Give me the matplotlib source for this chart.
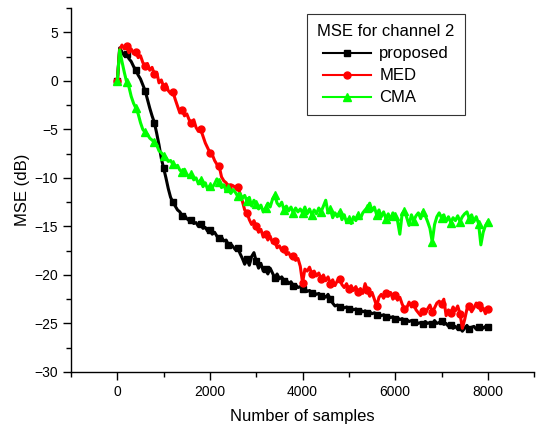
import numpy as np
import matplotlib
matplotlib.use("Agg")
import matplotlib.pyplot as plt
from matplotlib.ticker import MultipleLocator

plt.rcParams['font.family'] = ['Liberation Sans', 'DejaVu Sans']

# sample index, one value every 50 samples
samples = np.arange(0, 8001, 50)

mse_proposed = [
    0.0, 3.4, 3.0, 2.6, 2.8, 2.3, 2.0, 1.5, 1.1, 0.6,
    0.2, -0.4, -1.0, -1.9, -2.8, -3.6, -4.3, -5.4, -6.6, -8.0,
    -9.0, -10.0, -11.1, -12.0, -12.5, -12.9, -13.3, -13.5, -13.9, -13.8,
    -14.2, -14.4, -14.3, -14.7, -14.6, -15.0, -14.8, -15.2, -15.1, -15.5,
    -15.4, -15.8, -15.6, -16.0, -16.2, -16.1, -16.5, -16.4, -16.9, -16.8,
    -17.1, -17.4, -17.2, -17.8, -18.3, -18.9, -18.4, -19.0, -18.1, -17.7,
    -18.6, -19.3, -18.8, -19.6, -19.4, -19.9, -19.3, -19.8, -20.3, -19.9,
    -20.4, -20.2, -20.6, -20.5, -20.9, -20.7, -21.1, -21.0, -21.3, -21.2,
    -21.5, -21.4, -21.7, -21.6, -21.9, -21.8, -22.0, -21.9, -22.2, -22.1,
    -22.3, -22.0, -22.5, -22.9, -23.2, -23.1, -23.3, -23.2, -23.4, -23.3,
    -23.5, -23.4, -23.6, -23.5, -23.7, -23.6, -23.8, -23.7, -23.9, -23.8,
    -24.0, -23.9, -24.1, -24.0, -24.2, -24.1, -24.3, -24.2, -24.4, -24.3,
    -24.5, -24.4, -24.6, -24.5, -24.7, -24.6, -24.8, -24.7, -24.9, -24.8,
    -25.0, -24.9, -25.1, -24.8, -25.0, -24.9, -25.1, -24.7, -25.0, -24.9,
    -24.7, -25.1, -25.0, -25.3, -25.2, -25.5, -25.3, -25.6, -25.4, -25.8,
    -25.5, -25.2, -25.6, -25.4, -25.3, -25.6, -25.4, -25.2, -25.5, -25.3,
    -25.4,
]

mse_med = [
    0.0, 3.2, 3.7, 3.3, 3.6, 2.9, 3.3, 2.8, 3.0, 2.4,
    2.6, 1.9, 1.5, 1.8, 1.1, 1.4, 0.7, 0.9, -0.2, 0.1,
    -0.6, -0.3, -1.0, -1.3, -1.1, -1.9, -2.6, -3.3, -3.0, -3.6,
    -3.4, -4.0, -4.3, -4.0, -4.8, -5.2, -5.0, -5.7, -6.4, -6.9,
    -7.4, -7.6, -8.2, -8.6, -8.8, -9.9, -10.3, -10.5, -10.9, -10.7,
    -10.8, -11.0, -10.9, -11.6, -12.4, -13.3, -13.6, -14.3, -14.8, -14.4,
    -15.0, -15.6, -15.3, -16.1, -15.8, -16.4, -16.0, -16.7, -16.5, -17.2,
    -17.0, -17.5, -17.3, -17.9, -17.7, -18.2, -18.0, -18.5, -18.3, -19.1,
    -20.8, -19.4, -19.6, -19.2, -19.9, -19.6, -20.1, -19.8, -20.4, -20.0,
    -20.6, -20.2, -20.9, -20.5, -21.1, -20.6, -20.4, -21.0, -21.3, -20.9,
    -21.5, -21.1, -21.6, -21.2, -21.8, -21.4, -21.9, -20.9, -21.6, -22.2,
    -21.8, -22.5, -23.2, -22.3, -22.0, -22.4, -21.9, -22.2, -21.8, -22.5,
    -22.1, -22.6, -22.3, -23.0, -23.5, -23.4, -22.8, -23.3, -23.0, -23.6,
    -23.9, -24.2, -23.7, -24.0, -23.5, -23.1, -23.8, -23.4, -22.9, -22.7,
    -23.0, -22.5, -24.2, -23.6, -23.9, -23.3, -23.7, -23.2, -24.0, -25.5,
    -24.6, -23.5, -23.2, -23.8, -23.4, -22.9, -23.1, -23.7, -23.4, -24.0,
    -23.5,
]

mse_cma = [
    0.0, 3.2, 2.0, 0.9, -0.1, -0.6, -1.6, -2.3, -2.8, -3.4,
    -4.3, -5.0, -5.3, -5.5, -5.9, -6.1, -6.3, -6.6, -7.2, -7.4,
    -7.7, -7.9, -8.3, -8.2, -8.6, -8.9, -8.7, -9.2, -9.4, -9.1,
    -9.6, -9.9, -9.6, -10.2, -10.0, -10.6, -10.2, -10.9, -10.5, -11.2,
    -10.8, -11.0, -10.6, -10.1, -10.4, -11.0, -10.7, -11.4, -11.0, -11.6,
    -11.2, -11.5, -11.9, -11.6, -12.1, -11.8, -12.4, -12.0, -12.9, -12.3,
    -12.7, -13.2, -12.8, -13.5, -13.1, -12.6, -13.0, -12.2, -11.8, -12.6,
    -12.9, -12.5, -13.3, -12.9, -13.4, -13.0, -13.6, -13.1, -13.5, -13.2,
    -13.6, -13.0, -13.7, -13.2, -13.8, -13.3, -13.7, -13.1, -13.5, -12.9,
    -12.3, -13.6, -13.2, -14.1, -13.6, -14.0, -13.5, -14.3, -13.8, -14.6,
    -14.2, -14.7, -14.0, -14.4, -13.8, -14.2, -13.6, -13.3, -13.1, -12.6,
    -13.4, -13.0, -13.8, -13.3, -14.0, -13.5, -14.2, -13.7, -14.3, -13.6,
    -13.9, -14.4, -15.8, -13.7, -13.4, -14.1, -14.9, -13.8, -14.4, -13.9,
    -13.6, -14.2, -13.5, -13.9, -14.5, -15.2, -16.6, -14.8, -14.0, -13.6,
    -14.1, -13.8, -14.5, -14.0, -14.6, -14.1, -14.4, -13.9, -14.5, -14.0,
    -13.7, -13.5, -14.2, -13.8, -14.5, -14.0, -14.7, -16.9, -15.6, -14.9,
    -14.5,
]

fig = plt.figure(figsize=(5.36, 4.30), dpi=100)
ax = fig.add_axes([0.1325, 0.135, 0.864, 0.846])

ax.plot(samples, mse_proposed, color='black', lw=2.2, marker='s', ms=4.5,
        markevery=4, label='proposed')
ax.plot(samples, mse_med, color='#ff0000', lw=2.2, marker='o', ms=5,
        markevery=4, label='MED')
ax.plot(samples, mse_cma, color='#00ff00', lw=2.2, marker='^', ms=5.5,
        markevery=4, label='CMA')

ax.set_xlim(-1000, 9000)
ax.set_ylim(-30, 7.5)
ax.xaxis.set_major_locator(MultipleLocator(2000))
ax.xaxis.set_minor_locator(MultipleLocator(1000))
ax.yaxis.set_major_locator(MultipleLocator(5))
ax.yaxis.set_minor_locator(MultipleLocator(2.5))
ax.tick_params(which='major', direction='out', length=6, width=1, labelsize=10)
ax.tick_params(which='minor', direction='out', length=3.5, width=1)

for side in ('top', 'right'):
    ax.spines[side].set_visible(False)
for side in ('left', 'bottom'):
    ax.spines[side].set_linewidth(1)

ax.set_xlabel('Number of samples', fontsize=12, labelpad=7)
ax.set_ylabel('MSE (dB)', fontsize=12, labelpad=3)

leg = ax.legend(title='MSE for channel 2', loc='upper left',
                bbox_to_anchor=(0.51, 0.983), borderaxespad=0,
                fontsize=12, title_fontsize=12,
                fancybox=False, framealpha=1, edgecolor='#333333',
                handlelength=2.9, borderpad=0.6, labelspacing=0.42,
                handletextpad=0.5)
leg.get_frame().set_linewidth(0.8)
for line in leg.get_lines():
    line.set_linewidth(1.5)

fig.savefig('out.png', dpi=100)
